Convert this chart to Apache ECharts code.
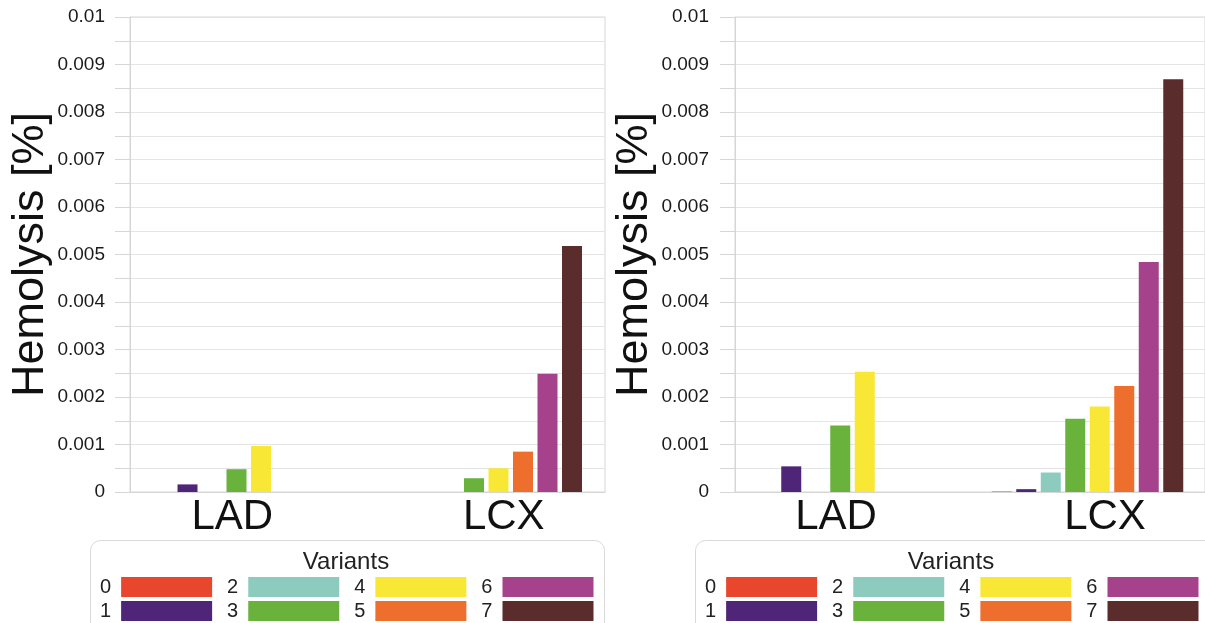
<!DOCTYPE html>
<html>
<head>
<meta charset="utf-8">
<script src="https://cdn.jsdelivr.net/npm/echarts@6/dist/echarts.min.js"></script>
<style>
html,body{margin:0;padding:0;background:#fff;}
#c{width:1205px;height:623px;}
</style>
</head>
<body>
<div id="c"></div>
<script>
// ---- data ----
var categories = ['LAD', 'LCX'];
var variantNames = ['0', '1', '2', '3', '4', '5', '6', '7'];
var variantColors = ['#e8472e', '#4f2677', '#8dcbbf', '#69b23c', '#f8e835', '#ee6e2d', '#a5428b', '#5a2c2b'];
// values per variant (index = variant), left chart
var leftLAD  = [0, 0.00016, 0, 0.00048, 0.00097, 0, 0, 0];
var leftLCX  = [0, 0, 0, 0.00029, 0.00050, 0.00085, 0.00249, 0.00518];
// right chart
var rightLAD = [0, 0.00054, 0, 0.00140, 0.00253, 0, 0, 0];
var rightLCX = [0.00001, 0.00006, 0.00041, 0.00154, 0.00180, 0.00223, 0.00484, 0.00869];
var yTickLabels = ['0', '0.001', '0.002', '0.003', '0.004', '0.005', '0.006', '0.007', '0.008', '0.009', '0.01'];
var yAxisTitle = 'Hemolysis [%]';
var legendTitle = 'Variants';
var legendRow1 = ['0', '2', '4', '6'];
var legendRow2 = ['1', '3', '5', '7'];

var FONT = '"Liberation Sans", Arial, Helvetica, sans-serif';
var chart = echarts.init(document.getElementById('c'), null, {renderer: 'canvas'});

function yAxisCfg(gridIndex, margin) {
  return {
    type: 'value', gridIndex: gridIndex, min: 0, max: 0.01, interval: 0.001,
    name: yAxisTitle, nameLocation: 'middle', nameGap: 73,
    nameTextStyle: {fontSize: 45, color: '#111', fontFamily: FONT},
    axisLine: {show: true, lineStyle: {color: '#d6d6d6', width: 1}},
    axisTick: {show: true, length: 15, lineStyle: {color: '#d6d6d6'}},
    minorTick: {show: true, splitNumber: 2, length: 15, lineStyle: {color: '#d6d6d6'}},
    splitLine: {show: true, lineStyle: {color: '#e4e4e4', width: 1}},
    minorSplitLine: {show: true, lineStyle: {color: '#e4e4e4', width: 1}},
    axisLabel: {
      fontSize: 19, color: '#1a1a1a', fontFamily: FONT, margin: margin,
      formatter: function (v) { return yTickLabels[Math.round(v / 0.001)]; }
    }
  };
}
function xAxisCfg(gridIndex) {
  return {
    type: 'category', gridIndex: gridIndex, data: categories,
    axisLine: {show: true, lineStyle: {color: '#d6d6d6'}},
    axisTick: {show: false},
    axisLabel: {
      fontSize: 42, color: '#111', fontFamily: FONT, margin: 4,
      formatter: function (v, idx) { return idx === 0 ? '{a|' + v + '}' : '{b|' + v + '}'; },
      rich: {
        a: {fontSize: 42, color: '#111', fontFamily: FONT, padding: [0, 33, 0, 0]},
        b: {fontSize: 42, color: '#111', fontFamily: FONT, padding: [0, 0, 0, 35]}
      }
    }
  };
}

var series = [];
variantNames.forEach(function (name, i) {
  series.push({
    name: name, type: 'bar', xAxisIndex: 0, yAxisIndex: 0,
    barWidth: 20, barGap: '22.5%',
    itemStyle: {color: variantColors[i]},
    data: [leftLAD[i], leftLCX[i]]
  });
});
variantNames.forEach(function (name, i) {
  series.push({
    name: name, type: 'bar', xAxisIndex: 1, yAxisIndex: 1,
    barWidth: 20, barGap: '22.5%',
    itemStyle: {color: variantColors[i]},
    data: [rightLAD[i], rightLCX[i]]
  });
});

function legendCfg(data, left, top) {
  return {
    data: data, left: left, top: top, orient: 'horizontal', align: 'right',
    padding: 0, itemGap: 15, itemWidth: 91, itemHeight: 20, icon: 'rect',
    selectedMode: false,
    textStyle: {fontSize: 20, color: '#222', fontFamily: FONT, padding: [0, 5, 0, 0]},
    itemStyle: {borderWidth: 0}
  };
}

var option = {
  backgroundColor: '#ffffff',
  animation: false,
  textStyle: {fontFamily: FONT},
  grid: [
    {left: 130, top: 17, width: 475, height: 475, show: true, borderColor: '#d6d6d6', borderWidth: 1, backgroundColor: 'transparent'},
    {left: 735, top: 17, width: 476, height: 475, show: true, borderColor: '#d6d6d6', borderWidth: 1, backgroundColor: 'transparent'}
  ],
  xAxis: [xAxisCfg(0), xAxisCfg(1)],
  yAxis: [yAxisCfg(0, 25), yAxisCfg(1, 26)],
  legend: [
    legendCfg(legendRow1, 100, 577),
    legendCfg(legendRow2, 100, 601),
    legendCfg(legendRow1, 705, 577),
    legendCfg(legendRow2, 705, 601)
  ],
  graphic: [
    {type: 'rect', shape: {x: 90.5, y: 540.5, width: 514, height: 110, r: 10}, style: {fill: 'none', stroke: '#d9d9d9', lineWidth: 1}, z: 0},
    {type: 'rect', shape: {x: 695.5, y: 540.5, width: 530, height: 110, r: 10}, style: {fill: 'none', stroke: '#d9d9d9', lineWidth: 1}, z: 0},
    {type: 'text', x: 346, y: 562, style: {text: legendTitle, fontSize: 24, fill: '#222', fontFamily: FONT, align: 'center', verticalAlign: 'middle'}},
    {type: 'text', x: 951, y: 562, style: {text: legendTitle, fontSize: 24, fill: '#222', fontFamily: FONT, align: 'center', verticalAlign: 'middle'}}
  ],
  series: series
};
chart.setOption(option);
</script>
</body>
</html>
